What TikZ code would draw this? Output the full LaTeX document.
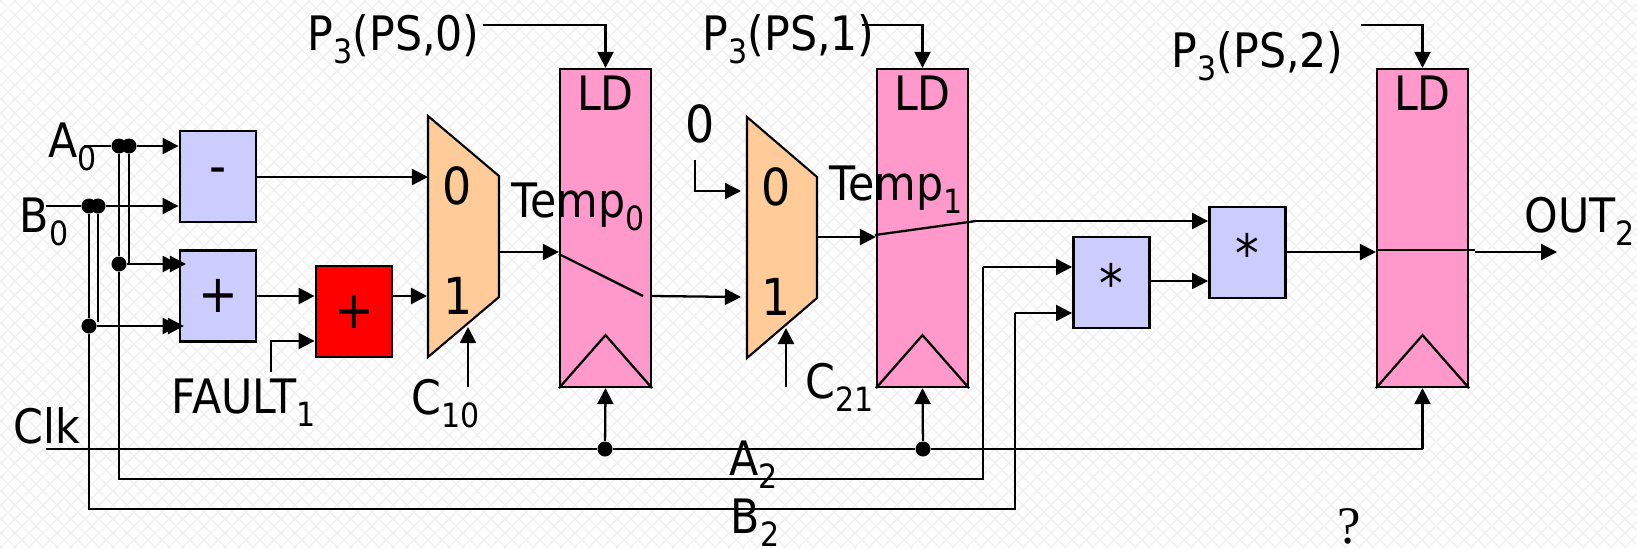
\documentclass[tikz,border=0pt]{standalone}
\usepackage{fontspec}
\setmainfont[FakeStretch=0.9]{DejaVu Sans}
\newfontfamily\qfont{Liberation Serif}
\usetikzlibrary{arrows.meta,calc}
\definecolor{opblue}{RGB}{204,204,255}
\definecolor{muxorange}{RGB}{255,204,153}
\definecolor{regpink}{RGB}{255,153,204}
\newcommand{\lowidx}[1]{\raisebox{-3.7pt}{\fontsize{9.5}{10}\selectfont #1}}
\tikzset{
  wire/.style={line width=0.65pt,-{Triangle[length=1.6mm,width=1.6mm]}},
  plain/.style={line width=0.65pt},
  opbox/.style={draw,line width=0.8pt,fill=opblue,minimum width=0.76cm,minimum height=0.91cm,inner sep=0pt,font=\fontsize{15}{15}\selectfont},
  regbox/.style={draw,line width=0.6pt,fill=regpink,minimum width=0.91cm,minimum height=3.18cm,inner sep=0pt},
  mux/.style={draw,line width=0.6pt,fill=muxorange},
  dot/.style={circle,fill=black,inner sep=0pt,minimum size=0.15cm},
  txt/.style={inner sep=0pt,anchor=base west,font=\fontsize{13.5}{14}\selectfont},
  muxtxt/.style={txt,font=\fontsize{14.5}{15}\selectfont},
}
\begin{document}
\begin{tikzpicture}[x=0.01cm,y=-0.01cm]
\useasboundingbox (0,0) rectangle (1637,548);
\clip (0,0) rectangle (1637,548);
% background lattice
\foreach \k in {-560,-546,...,1640} {
  \draw[black!6,line width=0.4pt] (\k,0)--(\k+548,548);
  \draw[black!6,line width=0.4pt] (\k+548,0)--(\k,548);
}
% muxes
\draw[mux] (428,116) coordinate (m0tl)--(499,176)--(499,297)--(428,357) coordinate (m0bl)--cycle;
\draw[mux] (747,117) coordinate (m1tl)--(817,177)--(817,298)--(747,358) coordinate (m1bl)--cycle;
% registers
\node[regbox] (R0) at (605.5,228) {};
\node[regbox] (R1) at (922.5,228) {};
\node[regbox] (R2) at (1422.5,228) {};
\foreach \r in {R0,R1,R2} {
  \draw[plain] (\r.south west)--($(\r.south)+(0,-53)$)--(\r.south east);
  \node[txt,anchor=base] at ($(\r.north)+(0,43)$) {LD};
}
% operators
\node[opbox] (sub) at (218,176.5) {-};
\node[opbox] (add) at (218,296) {+};
\node[opbox,fill=red] (fadd) at (354,311.5) {+};
\node[opbox] (mul1) at (1111.5,282.5) {*};
\node[opbox] (mul2) at (1247.5,252.5) {*};
% junctions
\node[dot] (a1) at (119,146) {};
\node[dot] (a2) at (129,146) {};
\node[dot] (b1) at (89,206) {};
\node[dot] (b2) at (98,206) {};
\node[dot] (a3) at (119,264) {};
\node[dot] (b3) at (89,326) {};
\node[dot] (c0) at (605,449) {};
\node[dot] (c1) at (923,449) {};
% labels
\node[txt] (lA0) at (48,157) {A\lowidx{0}};
\node[txt] (lB0) at (19,232) {B\lowidx{0}};
\node[txt] (lP0) at (307,50) {P\lowidx{3}(PS,0)};
\node[txt] (lP1) at (702,50) {P\lowidx{3}(PS,1)};
\node[txt] (lP2) at (1171,67) {P\lowidx{3}(PS,2)};
\node[muxtxt] (lm00) at (442,204) {0};
\node[muxtxt] (lm01) at (443,314) {1};
\node[muxtxt] (lm10) at (761,205) {0};
\node[muxtxt] (lm11) at (761,315) {1};
\node[muxtxt] (lzero) at (685,142) {0};
\node[txt] (lT0) at (511,217) {Temp\lowidx{0}};
\node[txt] (lT1) at (829,200) {Temp\lowidx{1}};
\node[txt] (lout) at (1524,232) {OUT\lowidx{2}};
\node[txt] (lF) at (171,413) {FAULT\lowidx{1}};
\node[txt] (lC0) at (411,414) {C\lowidx{10}};
\node[txt] (lC1) at (805,398) {C\lowidx{21}};
\node[txt] (lclk) at (13,443) {Clk};
\node[txt] (lA2) at (729,475) {A\lowidx{2}};
\node[txt] (lB2) at (730,533) {B\lowidx{2}};
\node[txt,font=\fontsize{15}{15}\qfont] (lq) at (1337,543) {?};
% free ends
\coordinate (inA) at (84,146);
\coordinate (inB) at (46,206);
\coordinate (inP0) at (483,25);
\coordinate (inP1) at (862,25);
\coordinate (inP2) at (1361,25);
\coordinate (inF) at (271,372);
\coordinate (inC0) at (468,387);
\coordinate (inC1) at (786,387);
\coordinate (inZ) at (695,160);
\coordinate (inclk) at (46,449);
\coordinate (cornerA) at (119,479);
\coordinate (cornerA2) at (983,479);
\coordinate (cornerB) at (89,509);
\coordinate (cornerB2) at (1015,509);
\coordinate (endOut) at (1557,252);
% inputs
\draw[wire] (inA)--(a1)--(a2)--(a2-|sub.west);
\draw[wire] (inB)--(b1)--(b2)--(b2-|sub.west);
\draw[plain] (a1)--(a3)--(cornerA)--(cornerA2)--(983,267);
\draw[plain] (b1)--(b3)--(cornerB)--(cornerB2)--(1015,313);
\draw[plain] (b2)--(98,322);
\draw[wire] (a2)--(129,264)--(186,264);
\draw[wire] (a3)--(a3-|add.west);
\draw[wire] (b3)--(184,326);
\draw[wire] (b3)--(b3-|add.west);
% datapath
\draw[wire] (sub.east|-0,177)--(428,177);
\draw[wire] (add.east|-0,296)--(fadd.west|-0,296);
\draw[wire] (fadd.east|-0,296)--(427,296);
\draw[wire] (inF)--(271,341)--(fadd.west|-0,341);
\draw[wire] (499,252)--(R0.west|-0,252);
\draw[plain] (R0.west|-0,254)--(643,296);
\draw[wire] (R0.east|-0,296)--(741,297);
\draw[wire] (inZ)--(695,191)--(741,191);
\draw[wire] (817,237)--(R1.west|-0,237);
\draw[plain] (875,235)--(976,221);
\draw[wire] (976,221)--(mul2.west|-0,221);
\draw[wire] (983,267)--(mul1.west|-0,267);
\draw[wire] (1015,313)--(mul1.west|-0,313);
\draw[wire] (mul1.east|-0,281)--(mul2.west|-0,281);
\draw[wire] (mul2.east|-0,252)--(R2.west|-0,252);
\draw[plain] (R2.west|-0,250)--(1475,250);
\draw[wire] (1475,252)--(endOut);
% controls
\draw[wire] (inC0)--(468,327);
\draw[wire] (inC1)--(786,328);
\draw[wire] (inP0)--(R0.north|-inP0)--(R0.north);
\draw[wire] (inP1)--(R1.north|-inP1)--(R1.north);
\draw[wire] (inP2)--(R2.north|-inP2)--(R2.north);
% clock
\draw[plain] (inclk)--(c0)--(c1)--(R2.south|-inclk);
\draw[wire] (R2.south|-inclk)--(R2.south);
\draw[wire] (c0)--(R0.south);
\draw[wire] (c1)--(R1.south);
\end{tikzpicture}
\end{document}
